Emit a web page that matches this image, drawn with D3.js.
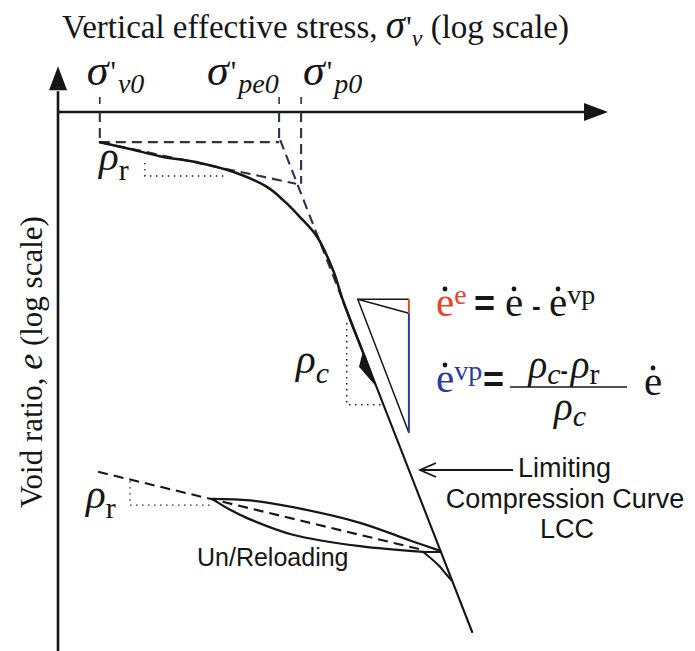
<!DOCTYPE html>
<html>
<head>
<meta charset="utf-8">
<script src="https://cdn.jsdelivr.net/npm/d3@7"></script>
<style>
  html, body { margin: 0; padding: 0; background: #fff; }
  svg { display: block; }
</style>
</head>
<body>
<svg id="chart" width="695" height="651"></svg>
<script>
// ---- Schematic values ------------------------------------------------------
// s = position along log σ'v axis (0–100), e = position along log e axis (0–100)
const stressMarks = ["v0", "pe0", "p0"];
const stressValues = [7.6, 40.2, 44.2];
const initialE = 94.2;          // void ratio at σ'v0
const recompressionEndE = 86.2; // recompression tangent reaching σ'p0

// Loading path: recompression then merging into the LCC
const loadingS = [7.6, 13.1, 18.5, 25.8, 31.8, 38.0, 40.9, 44.0, 47.1, 50.0, 51.8, 53.5, 55.3, 57.0];
const loadingE = [94.2, 92.9, 91.5, 90.2, 88.5, 85.6, 83.1, 79.8, 76.0, 69.6, 63.8, 59.0, 54.2, 49.4];

// Limiting compression curve (straight in log–log)
const lccS = [40.4, 75.3];
const lccE = [94.6, 0];
const lccSolidFromE = 63.3;
const lccArrowE = 47.5;

// Un/reloading loop
const unloadS = [69.5, 64.0, 54.9, 42.7, 34.9, 28.0];
const unloadE = [15.6, 17.6, 21.0, 24.0, 25.3, 25.6];
const reloadS = [28.0, 31.3, 34.4, 42.7, 54.9, 66.4];
const reloadE = [25.6, 23.5, 21.9, 18.7, 16.5, 15.4];
const rejoinS = [66.4, 68.0, 69.5, 70.5, 71.5];
const rejoinE = [15.4, 14.0, 12.5, 11.2, 10.0];
const reloadLineS = [7.3, 66.2];
const reloadLineE = [30.8, 15.8];

// Slope construction on the LCC
const triS = [54.5, 63.8];
const triE = [64.0, 61.3, 38.3];   // top, split point, bottom
const rhoCS = [52.5, 59.1];
const rhoCE = [59.4, 43.7];
const rhoRUpperS = [15.8, 30.7];
const rhoRUpperE = [90.2, 87.7];
const rhoRLowerS = [13.1, 28.2];
const rhoRLowerE = [29.0, 24.4];

// ---- Scales ----------------------------------------------------------------
const svg = d3.select("#chart");
const x = d3.scaleLinear().domain([0, 100]).range([58, 608]);
const y = d3.scaleLinear().domain([0, 100]).range([632, 112]);

const zip = (a, b) => a.map((v, i) => [v, b[i]]);
const line = d3.line().x(d => x(d[0])).y(d => y(d[1]));
const smooth = d3.line().x(d => x(d[0])).y(d => y(d[1])).curve(d3.curveCatmullRom.alpha(0.5));
const lccAt = e => lccS[0] + (lccE[0] - e) * (lccS[1] - lccS[0]) / (lccE[0] - lccE[1]);

const INK = "#161616";
const DASH_INK = "#2c3249";
const serif = "'Liberation Serif', 'Times New Roman', serif";
const sans = "'Liberation Sans', Arial, sans-serif";

// ---- Axes ------------------------------------------------------------------
const axes = svg.append("g");
axes.append("path")
  .attr("d", line([[0, -4], [0, 104]]))
  .attr("stroke", INK).attr("stroke-width", 2.6).attr("fill", "none");
axes.append("path")
  .attr("d", line([[0, 100], [96, 100]]))
  .attr("stroke", INK).attr("stroke-width", 2.6).attr("fill", "none");
// arrowheads
const yTip = [x(0), y(108.8)];
axes.append("path")
  .attr("d", `M${yTip[0]},${yTip[1]} L${yTip[0] - 9},${yTip[1] + 24} L${yTip[0] + 9},${yTip[1] + 24} Z`)
  .attr("fill", INK);
const xTip = [x(100), y(100)];
axes.append("path")
  .attr("d", `M${xTip[0]},${xTip[1]} L${xTip[0] - 24},${xTip[1] - 9} L${xTip[0] - 24},${xTip[1] + 9} Z`)
  .attr("fill", INK);

// ticks above the stress axis
axes.selectAll("line.tick").data(stressValues).join("line")
  .attr("class", "tick")
  .attr("x1", d => x(d)).attr("x2", d => x(d))
  .attr("y1", y(100) - 15).attr("y2", y(100) - 8)
  .attr("stroke", INK).attr("stroke-width", 1.4);

// Axis titles
const title = svg.append("text")
  .attr("x", 62).attr("y", 38)
  .attr("font-family", serif).attr("font-size", 33).attr("fill", INK);
title.append("tspan").text("Vertical effective stress, ");
title.append("tspan").attr("font-style", "italic").attr("font-size", 39).text("σ");
title.append("tspan").attr("font-size", 32).attr("dx", 1).text("'");
title.append("tspan").attr("font-style", "italic").attr("font-size", 24).attr("dy", 8).text("v");
title.append("tspan").attr("dy", -8).text(" (log scale)");

const yTitle = svg.append("text")
  .attr("transform", "translate(42,362) rotate(-90)")
  .attr("text-anchor", "middle")
  .attr("font-family", serif).attr("font-size", 31).attr("fill", INK);
yTitle.append("tspan").text("Void ratio, ");
yTitle.append("tspan").attr("font-style", "italic").attr("font-size", 36).text("e");
yTitle.append("tspan").text(" (log scale)");

// σ' labels over the ticks
const sigmaDx = { v0: -13, pe0: -72, p0: 2 };
stressMarks.forEach((m, i) => {
  const t = svg.append("text")
    .attr("x", x(stressValues[i]) + sigmaDx[m]).attr("y", 85)
    .attr("font-family", serif).attr("fill", INK);
  t.append("tspan").attr("font-style", "italic").attr("font-size", 44).text("σ");
  t.append("tspan").attr("font-size", 30).attr("dx", 2).attr("dy", -4).text("'");
  t.append("tspan").attr("font-style", "italic").attr("font-size", 28).attr("dx", 2).attr("dy", 12).text(m);
});

// ---- Construction lines (dashed) ------------------------------------------
const dashed = svg.append("g")
  .attr("fill", "none").attr("stroke", DASH_INK)
  .attr("stroke-width", 2.1).attr("stroke-dasharray", "10,6");
// verticals from the ticks
dashed.append("path").attr("d", line([[stressValues[0], 100], [stressValues[0], initialE]]));
dashed.append("path").attr("d", line([[stressValues[1], 100], [stressValues[1], initialE]]));
dashed.append("path").attr("d", line([[stressValues[2], 100], [stressValues[2], recompressionEndE]]));
// horizontal at e0
dashed.append("path").attr("d", line([[stressValues[0], initialE], [stressValues[1], initialE]]));
// recompression tangent
dashed.append("path").attr("d", line([[stressValues[0], initialE], [stressValues[2] - 0.9, recompressionEndE]]));
// upward extension of the LCC
dashed.append("path").attr("d", line([[lccAt(lccE[0]), lccE[0]], [lccAt(lccSolidFromE), lccSolidFromE]]));
// reloading tangent of the un/reloading loop
dashed.append("path").attr("stroke", INK)
  .attr("d", line(zip(reloadLineS, reloadLineE)));

// ---- Dotted slope markers --------------------------------------------------
const dotted = svg.append("g")
  .attr("fill", "none").attr("stroke", INK)
  .attr("stroke-width", 1.4).attr("stroke-dasharray", "1.4,4.6");
dotted.append("path").attr("d", line([[rhoRUpperS[0], rhoRUpperE[0]], [rhoRUpperS[0], rhoRUpperE[1]], [rhoRUpperS[1], rhoRUpperE[1]]]));
dotted.append("path").attr("d", line([[rhoRLowerS[0], rhoRLowerE[0]], [rhoRLowerS[0], rhoRLowerE[1]], [rhoRLowerS[1], rhoRLowerE[1]]]));
dotted.append("path").attr("d", line([[rhoCS[0], rhoCE[0]], [rhoCS[0], rhoCE[1]], [rhoCS[1], rhoCE[1]]]));

// ---- Compression curves ----------------------------------------------------
const solid = svg.append("g").attr("fill", "none").attr("stroke", INK).attr("stroke-linecap", "round");
solid.append("path").attr("stroke-width", 2.5).attr("d", smooth(zip(loadingS, loadingE)));
solid.append("path").attr("stroke-width", 2.1)
  .attr("d", line([[lccAt(lccSolidFromE), lccSolidFromE], [lccS[1], lccE[1]]]));
solid.append("path").attr("stroke-width", 2.3).attr("d", smooth(zip(unloadS, unloadE)));
solid.append("path").attr("stroke-width", 2.3).attr("d", smooth(zip(reloadS, reloadE)));
solid.append("path").attr("stroke-width", 2).attr("d", line([[reloadS[reloadS.length - 1], reloadE[reloadE.length - 1]], [lccAt(reloadE[reloadE.length - 1]), reloadE[reloadE.length - 1]]]));
solid.append("path").attr("stroke-width", 2).attr("d", smooth(zip(rejoinS, rejoinE)));

// direction arrow on the LCC
{
  const tip = [x(lccAt(lccArrowE)), y(lccArrowE)];
  const back = [x(lccAt(lccArrowE + 6.2)), y(lccArrowE + 6.2)];
  const side = [x(lccAt(lccArrowE + 4.0)) - 8, y(lccArrowE + 4.0) + 2.5];
  svg.append("path")
    .attr("d", `M${tip[0]},${tip[1]} L${back[0]},${back[1]} L${side[0]},${side[1]} Z`)
    .attr("fill", INK).attr("stroke", INK).attr("stroke-width", 1.2).attr("stroke-linejoin", "round");
}

// ---- Strain-rate split triangle ------------------------------------------
const tri = svg.append("g").attr("fill", "none").attr("stroke-width", 1.5);
tri.append("path").attr("stroke", INK)
  .attr("d", line([[triS[1], triE[2]], [triS[0], triE[0]], [triS[1], triE[0]]]));
tri.append("path").attr("stroke", INK)
  .attr("d", line([[triS[0], triE[0]], [triS[1], triE[1]]]));
tri.append("path").attr("stroke", "#e8432b").attr("stroke-width", 2)
  .attr("d", line([[triS[1], triE[0]], [triS[1], triE[1]]]));
tri.append("path").attr("stroke", "#2b3aa0").attr("stroke-width", 2)
  .attr("d", line([[triS[1], triE[1]], [triS[1], triE[2]]]));

// ---- ρ labels --------------------------------------------------------------
function rho(px, py, sub, subItalic) {
  const t = svg.append("text").attr("x", px).attr("y", py)
    .attr("font-family", serif).attr("fill", INK);
  t.append("tspan").attr("font-style", "italic").attr("font-size", 41).text("ρ");
  t.append("tspan").attr("font-style", subItalic ? "italic" : "normal")
    .attr("font-size", 30).attr("dy", 10).text(sub);
}
rho(99, 170, "r", false);
rho(296, 373, "c", true);
rho(86, 508, "r", false);

// ---- Equations -----------------------------------------------------------
function dotted_e(px, py, color, sup) {
  const t = svg.append("text").attr("x", px).attr("y", py)
    .attr("font-family", serif).attr("fill", color);
  t.append("tspan").attr("font-size", 41).text("e");
  if (sup) t.append("tspan").attr("font-size", 28).attr("dy", -12).text(sup);
  svg.append("circle").attr("cx", px + 9).attr("cy", py - 27).attr("r", 2.4).attr("fill", INK);
}
const eq1 = 316, eq2 = 392;
dotted_e(436, eq1, "#e8432b", "e");
svg.append("text").attr("x", 474).attr("y", eq1).attr("font-family", sans).attr("font-weight", "bold")
  .attr("font-size", 36).attr("fill", INK).text("=");
dotted_e(505, eq1, INK);
svg.append("text").attr("x", 532).attr("y", eq1 - 1).attr("font-family", sans).attr("font-weight", "bold")
  .attr("font-size", 26).attr("fill", INK).text("-");
dotted_e(549, eq1, INK, "vp");

dotted_e(436, eq2, "#2b3aa0", "vp");
svg.append("text").attr("x", 483).attr("y", eq2).attr("font-family", sans).attr("font-weight", "bold")
  .attr("font-size", 36).attr("fill", INK).text("=");
svg.append("line").attr("x1", 510).attr("x2", 627).attr("y1", eq2 - 5).attr("y2", eq2 - 5)
  .attr("stroke", INK).attr("stroke-width", 1.6);
{
  const num = svg.append("text").attr("x", 564).attr("y", eq2 - 14).attr("text-anchor", "middle")
    .attr("font-family", serif).attr("fill", INK);
  num.append("tspan").attr("font-style", "italic").attr("font-size", 39).text("ρ");
  num.append("tspan").attr("font-style", "italic").attr("font-size", 30).attr("dy", 6).text("c");
  num.append("tspan").attr("font-family", sans).attr("font-weight", "bold").attr("font-size", 22).attr("dy", -6).text("-");
  num.append("tspan").attr("font-style", "italic").attr("font-size", 39).attr("dx", 3).text("ρ");
  num.append("tspan").attr("font-size", 30).attr("dy", 6).text("r");
  const den = svg.append("text").attr("x", 570).attr("y", eq2 + 28).attr("text-anchor", "middle")
    .attr("font-family", serif).attr("fill", INK);
  den.append("tspan").attr("font-style", "italic").attr("font-size", 39).text("ρ");
  den.append("tspan").attr("font-style", "italic").attr("font-size", 30).attr("dy", 6).text("c");
}
dotted_e(644, eq2 + 3, INK);

// ---- LCC annotation --------------------------------------------------------
{
  const ay = 470;
  svg.append("path").attr("d", `M513,${ay} L420,${ay} M436,${ay - 7} L420,${ay} L436,${ay + 7}`)
    .attr("fill", "none").attr("stroke", INK).attr("stroke-width", 1.8);
  const lab = svg.append("g").attr("font-family", sans).attr("font-size", 27).attr("fill", INK);
  lab.append("text").attr("x", 518).attr("y", 477).text("Limiting");
  lab.append("text").attr("x", 565).attr("y", 508).attr("text-anchor", "middle").text("Compression Curve");
  lab.append("text").attr("x", 567).attr("y", 538).attr("text-anchor", "middle").text("LCC");
}
svg.append("text").attr("x", 197).attr("y", 566)
  .attr("font-family", sans).attr("font-size", 25).attr("fill", INK).text("Un/Reloading");
</script>
</body>
</html>
